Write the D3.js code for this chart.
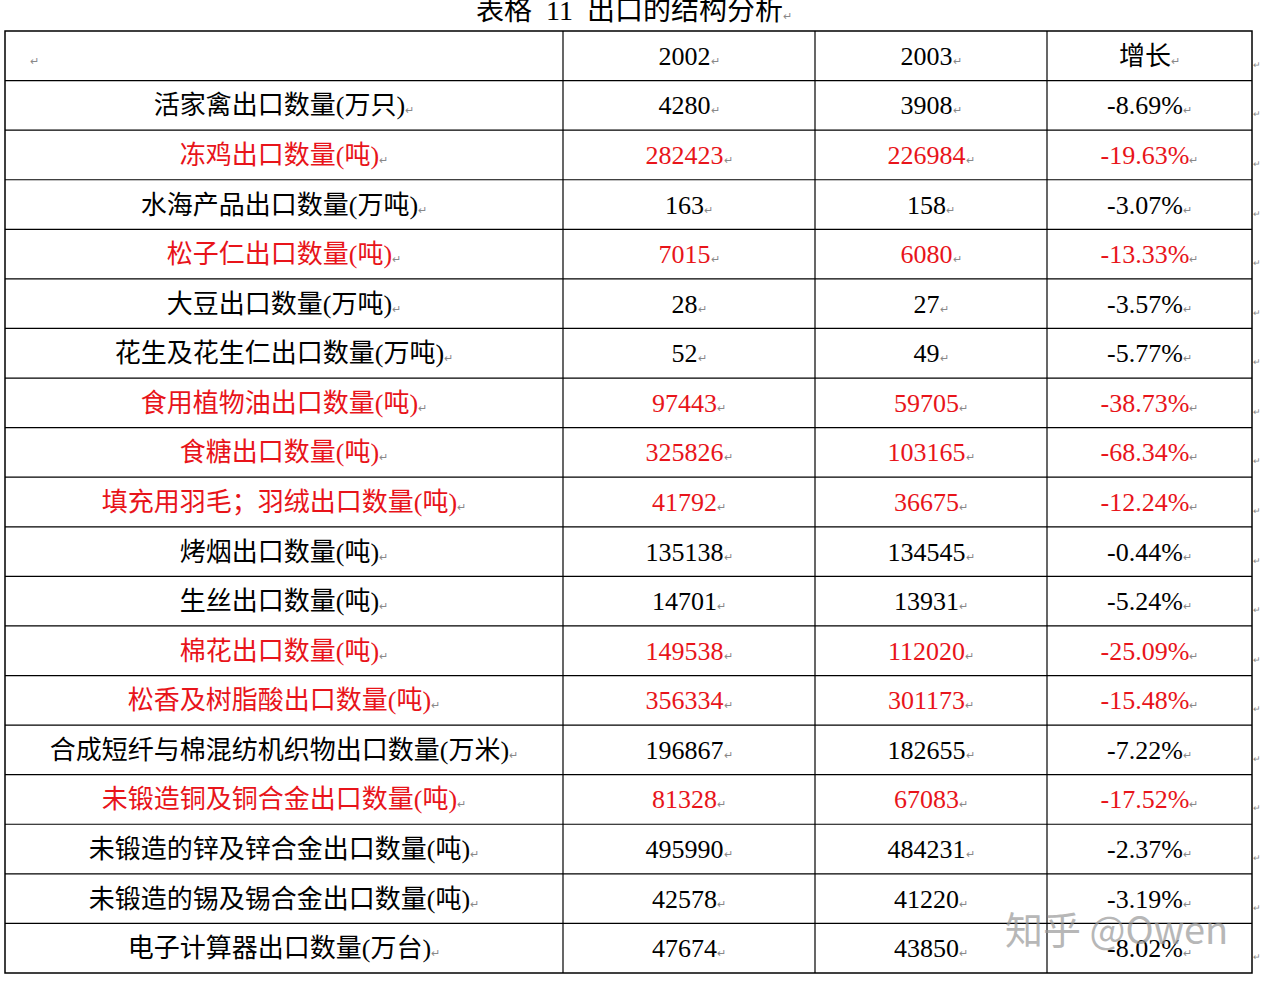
<!DOCTYPE html>
<html><head><meta charset="utf-8">
<script src="https://cdnjs.cloudflare.com/ajax/libs/d3/7.8.5/d3.min.js"></script>
<style>body{margin:0;background:#fff}</style></head>
<body><svg id="c" width="1261" height="981"></svg>
<script>
const title = "表格  11  出口的结构分析";
const headers = ["", "2002", "2003", "增长"];
const items = ["活家禽出口数量(万只)","冻鸡出口数量(吨)","水海产品出口数量(万吨)","松子仁出口数量(吨)","大豆出口数量(万吨)","花生及花生仁出口数量(万吨)","食用植物油出口数量(吨)","食糖出口数量(吨)","填充用羽毛；羽绒出口数量(吨)","烤烟出口数量(吨)","生丝出口数量(吨)","棉花出口数量(吨)","松香及树脂酸出口数量(吨)","合成短纤与棉混纺机织物出口数量(万米)","未锻造铜及铜合金出口数量(吨)","未锻造的锌及锌合金出口数量(吨)","未锻造的锡及锡合金出口数量(吨)","电子计算器出口数量(万台)"];
const v2002 = [4280,282423,163,7015,28,52,97443,325826,41792,135138,14701,149538,356334,196867,81328,495990,42578,47674];
const v2003 = [3908,226984,158,6080,27,49,59705,103165,36675,134545,13931,112020,301173,182655,67083,484231,41220,43850];
const growth = ["-8.69%","-19.63%","-3.07%","-13.33%","-3.57%","-5.77%","-38.73%","-68.34%","-12.24%","-0.44%","-5.24%","-25.09%","-15.48%","-7.22%","-17.52%","-2.37%","-3.19%","-8.02%"];
const highlighted = [false,true,false,true,false,false,true,true,true,false,false,true,true,false,true,false,false,false];

const svg = d3.select("#c");
const font = "'Liberation Serif','Noto Sans CJK SC',serif";
const colEdges = [5,563,815,1047,1252];
const rows = d3.range(items.length+1);
const y = d3.scaleBand().domain(rows).range([31,973]);
const mark = "↵";

svg.append("text").attr("x",634).attr("y",20).attr("text-anchor","middle")
  .attr("font-family",font).attr("font-size",28).attr("fill","#000")
  .attr("xml:space","preserve").style("white-space","pre").text(title)
  .append("tspan").attr("font-size",11).attr("fill","#888").text(mark);

svg.append("rect").attr("x",5).attr("y",31).attr("width",1247).attr("height",942)
  .attr("fill","none").attr("stroke","#000").attr("stroke-width",1.5);
rows.slice(1).forEach(r=>svg.append("line").attr("x1",5).attr("x2",1252)
  .attr("y1",y(r)).attr("y2",y(r)).attr("stroke","#000").attr("stroke-width",1.2));
colEdges.slice(1,4).forEach(cx=>svg.append("line").attr("x1",cx).attr("x2",cx)
  .attr("y1",31).attr("y2",973).attr("stroke","#000").attr("stroke-width",1.2));

function cell(col,row,txt,color){
  const cx=(colEdges[col]+colEdges[col+1])/2;
  const t=svg.append("text").attr("x",cx).attr("y",y(row)+y.bandwidth()/2+9)
    .attr("text-anchor","middle").attr("font-family",font).attr("font-size",26)
    .attr("fill",color).text(txt);
  t.append("tspan").attr("font-size",11).attr("fill","#888").text(mark);
}
headers.forEach((h,i)=>{
  if(i===0){svg.append("text").attr("x",30).attr("y",y(0)+y.bandwidth()/2+9)
    .attr("font-size",11).attr("fill","#888").text(mark);}
  else cell(i,0,h,"#000");
});
items.forEach((it,i)=>{
  const c = highlighted[i] ? "#e8141a" : "#000";
  cell(0,i+1,it,c); cell(1,i+1,String(v2002[i]),c);
  cell(2,i+1,String(v2003[i]),c); cell(3,i+1,growth[i],c);
});
rows.forEach(r=>svg.append("text").attr("x",1253).attr("y",y(r)+y.bandwidth()/2+12)
  .attr("font-size",9).attr("fill","#888").text(mark));

svg.append("text").attr("x",1005).attr("y",944).attr("font-family","'Noto Sans CJK SC',sans-serif")
  .attr("font-size",38).attr("fill","#999").attr("opacity",0.7).text("知乎 @Owen");
</script></body></html>
